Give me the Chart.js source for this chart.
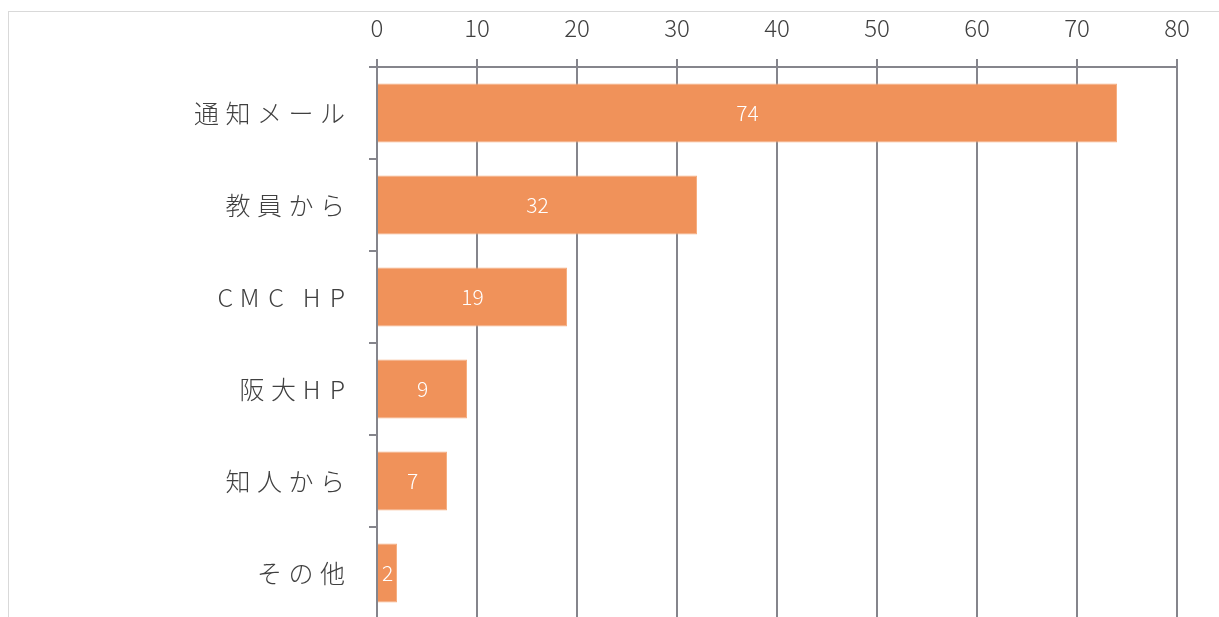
<!DOCTYPE html>
<html>
<head>
<meta charset="utf-8">
<script src="https://cdn.jsdelivr.net/npm/chart.js@4"></script>
<style>
  html, body { margin: 0; padding: 0; background: #fff; overflow: hidden; }
  #frame { position: absolute; left: 8px; top: 11px; width: 1240px; height: 700px; border: 1px solid #d9d9d9; }
  #wrap { position: absolute; left: 0; top: 0; width: 1219px; height: 640px; }
</style>
</head>
<body>
<div id="frame"></div>
<div id="wrap"><canvas id="sourceChart"></canvas></div>
<script>
// Where people heard about it
const categories = ['通知メール', '教員から', 'CMC HP', '阪大HP', '知人から', 'その他'];
const counts = [74, 32, 19, 9, 7, 2];
const axisMax = 80;
const axisStep = 10;

const fontFamily = '"Noto Sans CJK JP", "Noto Sans", sans-serif';
const gridColor = '#85858c';
const labelSpacing = 6.5;

// value labels inside the bars + spaced category labels
const barLabels = {
  id: 'barLabels',
  afterDatasetsDraw(chart) {
    const ctx = chart.ctx;
    const meta = chart.getDatasetMeta(0);
    ctx.save();
    ctx.font = '300 21px ' + fontFamily;
    ctx.fillStyle = '#ffffff';
    ctx.textAlign = 'center';
    ctx.textBaseline = 'middle';
    meta.data.forEach((bar, i) => {
      ctx.fillText(String(counts[i]), (bar.x + bar.base) / 2, bar.y);
    });
    ctx.restore();
  },
  afterDraw(chart) {
    const ctx = chart.ctx;
    const y = chart.scales.y;
    ctx.save();
    ctx.font = '300 25px ' + fontFamily;
    ctx.fillStyle = '#404040';
    ctx.textAlign = 'right';
    ctx.textBaseline = 'middle';
    categories.forEach((label, i) => {
      let x = y.right - 8 - 24;
      const cy = y.getPixelForValue(i);
      const chars = Array.from(label);
      for (let c = chars.length - 1; c >= 0; c--) {
        ctx.fillText(chars[c], x, cy);
        // latin letters get a bit more room than the narrow glyphs give
        const w = ctx.measureText(chars[c]).width;
        x -= (chars[c] === ' ' ? w : Math.max(w, 18)) + labelSpacing;
      }
    });
    ctx.restore();
  }
};

const ctxSource = document.getElementById('sourceChart').getContext('2d');
const sourceChart = new Chart(ctxSource, {
  type: 'bar',
  data: {
    labels: categories,
    datasets: [{
      data: counts,
      backgroundColor: '#f0925a',
      borderColor: '#f6ae80',
      borderWidth: 1,
      categoryPercentage: 1,
      barPercentage: 0.64
    }]
  },
  options: {
    indexAxis: 'y',
    responsive: true,
    maintainAspectRatio: false,
    animation: false,
    layout: { padding: { left: 0, right: 42, top: 0, bottom: 21 } },
    plugins: {
      legend: { display: false },
      tooltip: { enabled: false }
    },
    scales: {
      x: {
        position: 'top',
        min: 0,
        max: axisMax,
        afterFit(scale) { scale.height = 67; },
        ticks: {
          stepSize: axisStep,
          color: '#404040',
          font: { family: fontFamily, size: 24, weight: '300' },
          padding: 17
        },
        grid: { color: gridColor, lineWidth: 2, tickLength: 8 },
        border: { color: gridColor, width: 2 }
      },
      y: {
        afterFit(scale) { scale.width = 377; },
        ticks: { display: false },
        grid: { offset: true, drawOnChartArea: false, color: gridColor, lineWidth: 2, tickLength: 8 },
        border: { color: gridColor, width: 2 }
      }
    }
  },
  plugins: [barLabels]
});
</script>
</body>
</html>
